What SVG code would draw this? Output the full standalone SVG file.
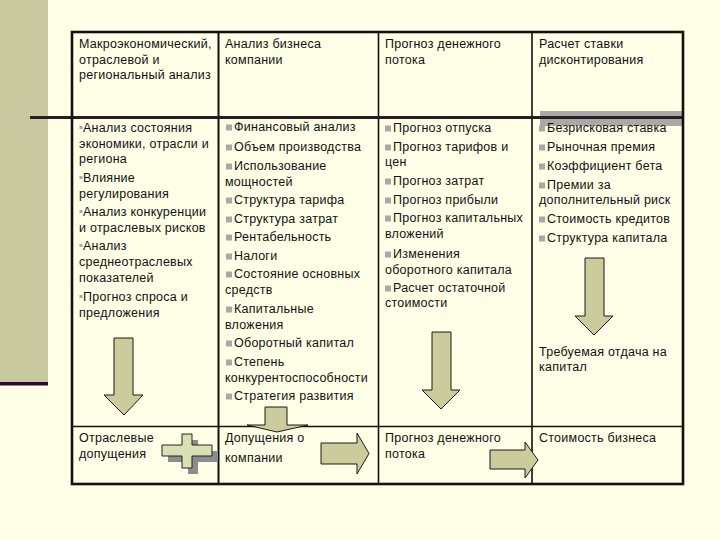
<svg xmlns="http://www.w3.org/2000/svg" width="720" height="540" viewBox="0 0 720 540">
<defs>
<style>
.t{font-family:"Liberation Sans",Arial,sans-serif;font-size:12.5px;letter-spacing:0.25px;fill:#111}
.ar{fill:#CBCB9C;stroke:#1a1a1a;stroke-width:1;stroke-linejoin:miter}
.b{fill:#A8A8A8}
.grid{stroke:#111;fill:none}
</style>
</defs>
<rect x="0" y="0" width="720" height="540" fill="#FFFFE7"/>
<g id="sidebar">
<rect x="0" y="0" width="48" height="382" fill="#C9C99F"/>
<rect x="0" y="382" width="48" height="3.5" fill="#2B0B2E"/>
</g>
<g id="table-grid">
<rect x="540" y="111" width="143" height="15" fill="#A9A9A9"/>
<line class="grid" x1="218.5" y1="32" x2="218.5" y2="484" stroke-width="2"/>
<line class="grid" x1="378.5" y1="32" x2="378.5" y2="484" stroke-width="1.6"/>
<line class="grid" x1="532" y1="32" x2="532" y2="484" stroke-width="1.6"/>
<line class="grid" x1="72" y1="426.5" x2="683" y2="426.5" stroke-width="1.6"/>
<line x1="30" y1="117.5" x2="683" y2="117.5" stroke="#2D1B22" stroke-width="3"/>
<rect class="grid" x="72" y="32" width="611" height="452" stroke-width="2.6"/>
</g>
<g id="header-macro">
<text class="t" x="79" y="48">Макроэкономический,</text>
<text class="t" x="79" y="64">отраслевой и</text>
<text class="t" x="79" y="79">региональный анализ</text>
</g>
<g id="header-business">
<text class="t" x="225" y="48">Анализ бизнеса</text>
<text class="t" x="225" y="64">компании</text>
</g>
<g id="header-cashflow">
<text class="t" x="385" y="48">Прогноз денежного</text>
<text class="t" x="385" y="64">потока</text>
</g>
<g id="header-discount">
<text class="t" x="539" y="48">Расчет ставки</text>
<text class="t" x="539" y="64">дисконтирования</text>
</g>
<g id="body-macro">
<rect class="b" x="79.5" y="126" width="3" height="3"/>
<text class="t" x="83" y="132">Анализ состояния</text>
<text class="t" x="79" y="147.5">экономики, отрасли и</text>
<text class="t" x="79" y="163">региона</text>
<rect class="b" x="79.5" y="176" width="3" height="3"/>
<text class="t" x="83" y="182">Влияние</text>
<text class="t" x="79" y="198">регулирования</text>
<rect class="b" x="79.5" y="210" width="3" height="3"/>
<text class="t" x="83" y="216">Анализ конкуренции</text>
<text class="t" x="79" y="231.5">и отраслевых рисков</text>
<rect class="b" x="79.5" y="244" width="3" height="3"/>
<text class="t" x="83" y="250">Анализ</text>
<text class="t" x="79" y="266">среднеотраслевых</text>
<text class="t" x="79" y="282">показателей</text>
<rect class="b" x="79.5" y="295" width="3" height="3"/>
<text class="t" x="83" y="301">Прогноз спроса и</text>
<text class="t" x="79" y="317">предложения</text>
</g>
<g id="body-business">
<rect class="b" x="226" y="124.5" width="6" height="6"/><text class="t" x="234" y="131">Финансовый анализ</text>
<rect class="b" x="226" y="144.5" width="6" height="6"/><text class="t" x="234" y="151">Объем производства</text>
<rect class="b" x="226" y="163.5" width="6" height="6"/><text class="t" x="234" y="170">Использование</text>
<text class="t" x="225" y="186">мощностей</text>
<rect class="b" x="226" y="197.5" width="6" height="6"/><text class="t" x="234" y="204">Структура тарифа</text>
<rect class="b" x="226" y="216.5" width="6" height="6"/><text class="t" x="234" y="223">Структура затрат</text>
<rect class="b" x="226" y="234.5" width="6" height="6"/><text class="t" x="234" y="241">Рентабельность</text>
<rect class="b" x="226" y="253.5" width="6" height="6"/><text class="t" x="234" y="260">Налоги</text>
<rect class="b" x="226" y="271.5" width="6" height="6"/><text class="t" x="234" y="278">Состояние основных</text>
<text class="t" x="225" y="294">средств</text>
<rect class="b" x="226" y="306.5" width="6" height="6"/><text class="t" x="234" y="313">Капитальные</text>
<text class="t" x="225" y="329">вложения</text>
<rect class="b" x="226" y="340.5" width="6" height="6"/><text class="t" x="234" y="347">Оборотный капитал</text>
<rect class="b" x="226" y="359.5" width="6" height="6"/><text class="t" x="234" y="366">Степень</text>
<text class="t" x="225" y="382">конкурентоспособности</text>
<rect class="b" x="226" y="393.5" width="6" height="6"/><text class="t" x="234" y="400">Стратегия развития</text>
</g>
<g id="body-cashflow">
<rect class="b" x="385" y="125.5" width="6" height="6"/><text class="t" x="393" y="132">Прогноз отпуска</text>
<rect class="b" x="385" y="144.5" width="6" height="6"/><text class="t" x="393" y="151">Прогноз тарифов и</text>
<text class="t" x="385" y="166">цен</text>
<rect class="b" x="385" y="178.5" width="6" height="6"/><text class="t" x="393" y="185">Прогноз затрат</text>
<rect class="b" x="385" y="197.5" width="6" height="6"/><text class="t" x="393" y="204">Прогноз прибыли</text>
<rect class="b" x="385" y="215.5" width="6" height="6"/><text class="t" x="393" y="222">Прогноз капитальных</text>
<text class="t" x="385" y="238">вложений</text>
<rect class="b" x="385" y="251.5" width="6" height="6"/><text class="t" x="393" y="258">Изменения</text>
<text class="t" x="385" y="274">оборотного капитала</text>
<rect class="b" x="385" y="285.5" width="6" height="6"/><text class="t" x="393" y="292">Расчет остаточной</text>
<text class="t" x="385" y="307">стоимости</text>
</g>
<g id="body-discount">
<rect class="b" x="539" y="125.5" width="6" height="6"/><text class="t" x="547" y="132">Безрисковая ставка</text>
<rect class="b" x="539" y="144.5" width="6" height="6"/><text class="t" x="547" y="151">Рыночная премия</text>
<rect class="b" x="539" y="163.5" width="6" height="6"/><text class="t" x="547" y="170">Коэффициент бета</text>
<rect class="b" x="539" y="182.5" width="6" height="6"/><text class="t" x="547" y="189">Премии за</text>
<text class="t" x="539" y="204">дополнительный риск</text>
<rect class="b" x="539" y="216.5" width="6" height="6"/><text class="t" x="547" y="223">Стоимость кредитов</text>
<rect class="b" x="539" y="235.5" width="6" height="6"/><text class="t" x="547" y="242">Структура капитала</text>
<text class="t" x="539" y="356">Требуемая отдача на</text>
<text class="t" x="539" y="371">капитал</text>
</g>
<g id="result-industry">
<text class="t" x="79" y="442">Отраслевые</text>
<text class="t" x="79" y="458">допущения</text>
</g>
<g id="result-company">
<text class="t" x="225" y="442">Допущения о</text>
<text class="t" x="225" y="462">компании</text>
</g>
<g id="result-cashflow">
<text class="t" x="385" y="442">Прогноз денежного</text>
<text class="t" x="385" y="458">потока</text>
</g>
<g id="result-value">
<text class="t" x="539" y="442">Стоимость бизнеса</text>
</g>
<g id="connectors">
<polygon class="ar" points="114,338 133,338 133,395 143,395 124,415 104,395 114,395"/>
<polygon class="ar" points="265,407 287,407 287,425 308,425 277,432 247,425 265,425"/>
<polygon class="ar" points="432,332 451,332 451,390 460,390 441,409 422,390 432,390"/>
<polygon class="ar" points="585,258 604,258 604,316 613,316 594,335 575,316 585,316"/>
<polygon class="ar" points="321,443 357,443 357,433 369,453.5 357,474 357,464 321,464"/>
<polygon class="ar" points="490,450 525,450 525,442 538,460 525,478 525,469 490,469"/>
<g id="plus">
<polygon fill="#8C8C8C" points="188,440 198,440 198,451 218,451 218,462 198,462 198,474 188,474 188,462 168,462 168,451 188,451"/>
<polygon fill="#D7E1B3" stroke="#222" stroke-width="1" points="182,434 192,434 192,445 212,445 212,456 192,456 192,468 182,468 182,456 162,456 162,445 182,445"/>
</g>
</g>
</svg>
